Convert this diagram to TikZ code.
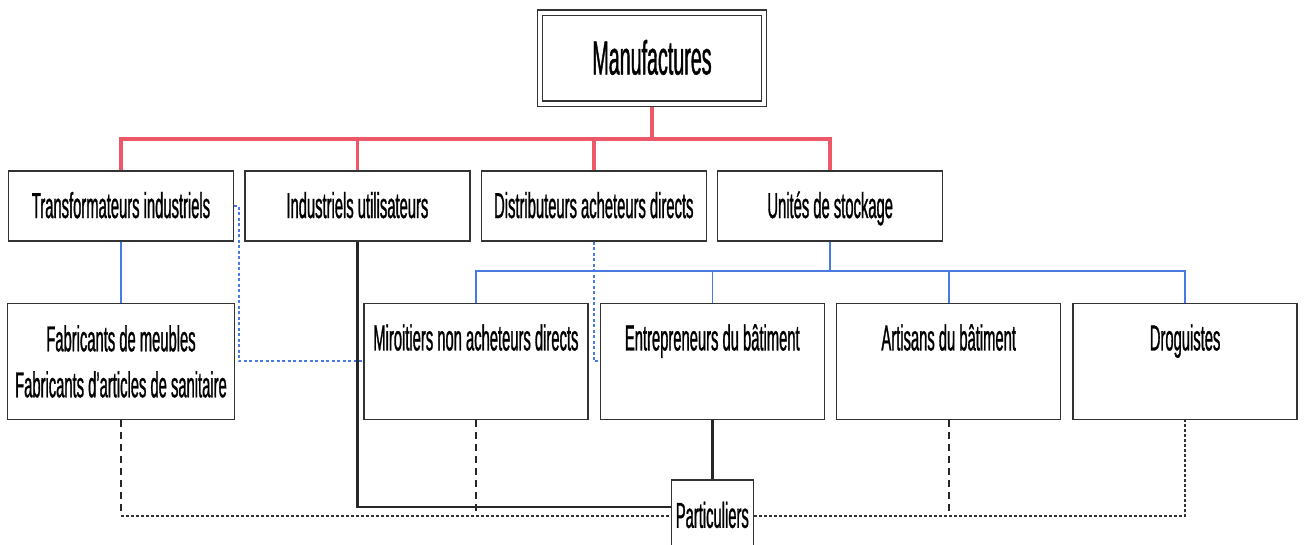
\documentclass[tikz,border=0pt]{standalone}
\usepackage{fontspec}
\setmainfont{Liberation Sans}[FakeStretch=0.41,FakeBold=0.8]
\usetikzlibrary{positioning,backgrounds}
\definecolor{redline}{RGB}{236,88,104}
\definecolor{blueline}{RGB}{72,122,226}

\begin{document}
\begin{tikzpicture}
    [x=1pt,y=-1pt,
    box/.style={rectangle,draw=black!80,fill=white,line width=1.4pt,
    inner sep=0pt,font=\fontsize{36}{46}\selectfont},
    toprow/.style={box,minimum width=225pt,text height=47pt,text depth=23pt},
    lowrow/.style={box,minimum width=224pt,text height=47pt,text depth=69pt},
    red link/.style={draw=redline,line width=3.5pt},
    blue link/.style={draw=blueline,line width=1.6pt},
    blue dots/.style={draw=blueline,line width=2pt,dash pattern=on 3pt off 2.5pt},
    black link/.style={draw=black!85,line width=2.6pt},
    dash link/.style={draw=black!85,line width=1.8pt,dash pattern=on 7pt off 5pt},
    dot link/.style={draw=black!80,line width=1.4pt,dash pattern=on 3pt off 2pt}]
    \useasboundingbox (0,0) rectangle (1304,544);
    \clip (0,0) rectangle (1304,544);
    \node[box,double,double distance=4pt,line width=1.3pt,minimum width=224pt,
      text height=62pt,text depth=29pt,font=\fontsize{48}{50}\selectfont]
      (manu) at (652,58) {Manufactures};
    \node[toprow] (trans) at (121,206) {Transformateurs industriels};
    \node[toprow] (indus) [right=10pt of trans] {Industriels utilisateurs};
    \node[toprow] (distri) [right=10pt of indus] {Distributeurs acheteurs directs};
    \node[toprow] (stock) [right=10pt of distri] {Unités de stockage};
    \node[box,minimum width=227pt,minimum height=116pt,align=center]
      (fab) [below=61pt of trans] {Fabricants de meubles\\Fabricants d'articles de sanitaire};
    \node[lowrow] (miroi) [right=128pt of fab] {Miroitiers non acheteurs directs};
    \node[lowrow] (entre) [right=11pt of miroi] {Entrepreneurs du bâtiment};
    \node[lowrow] (artis) [right=11pt of entre] {Artisans du bâtiment};
    \node[lowrow] (drog) [right=11pt of artis] {Droguistes};
    \node[box,minimum width=82pt,text height=48pt,text depth=24pt]
      (partic) [below=59pt of entre] {Particuliers};
    \coordinate (redbus) at (652,139);
    \coordinate (bluebus) at (830,271);
    \begin{scope}[on background layer]
        \foreach \n in {trans,indus,distri,stock}
            \draw[red link] (manu.south) -- (redbus) -| (\n.north);
        \draw[blue link] (trans.south) -- (fab.north);
        \foreach \n in {miroi,entre,artis,drog}
            \draw[blue link] (stock.south) -- (stock.south |- bluebus) -| (\n.north);
        \draw[blue dots] (trans.east) -- ++(5,0) |- (miroi.west);
        \draw[blue dots] (distri.south) |- (entre.west);
        \draw[black link] (indus.south) |- ([yshift=9pt]partic.west);
        \draw[black link] (entre.south) -- (partic.north);
        \draw[dash link] (fab.south) -- (fab.south |- partic.west);
        \draw[dash link] (miroi.south) -- (miroi.south |- partic.west);
        \draw[dash link] (artis.south) -- (artis.south |- partic.east);
        \draw[dot link] (fab.south |- partic.west) -- (partic.west);
        \draw[dot link] (partic.east) -- (drog.south |- partic.east) -- (drog.south);
    \end{scope}
\end{tikzpicture}
\end{document}
